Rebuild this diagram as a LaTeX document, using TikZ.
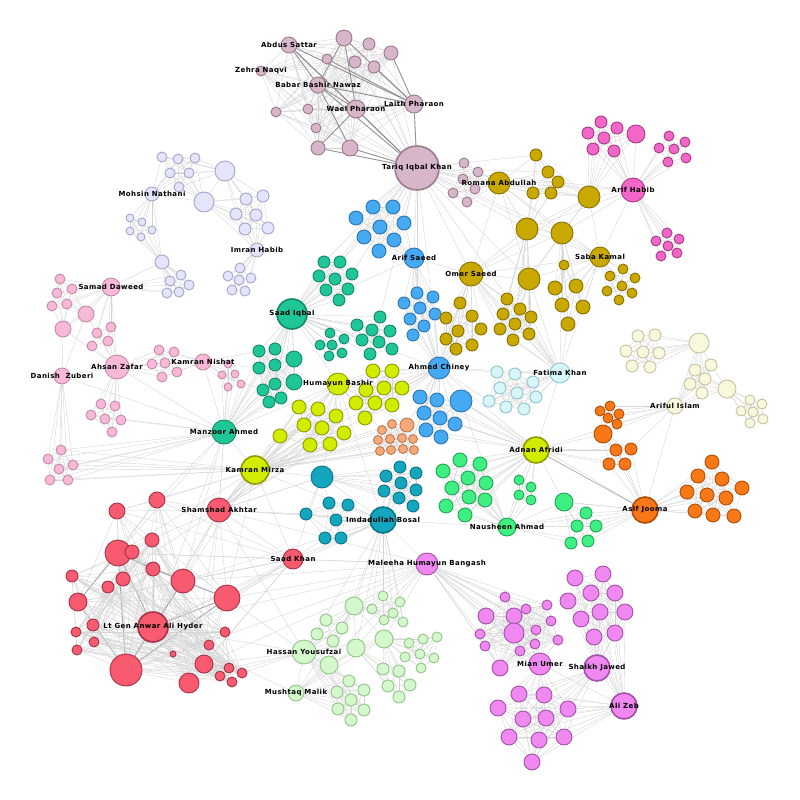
\documentclass[tikz,border=0pt]{standalone}
\usepackage{fontspec}
\newfontfamily\labfont[LetterSpace=6]{DejaVu Sans}
\pgfdeclarelayer{back}
\pgfdeclarelayer{edges}
\pgfsetlayers{back,edges,main}

\definecolor{mauveF}{HTML}{D8B6CA}\definecolor{mauveD}{HTML}{9C7A8E}
\definecolor{lilacF}{HTML}{E4E4FA}\definecolor{lilacD}{HTML}{A6A6CC}
\definecolor{roseF}{HTML}{F8B8D8}\definecolor{roseD}{HTML}{C48CA6}
\definecolor{jadeF}{HTML}{1FC698}\definecolor{jadeD}{HTML}{12896A}
\definecolor{chartF}{HTML}{D2EC00}\definecolor{chartD}{HTML}{8E9C00}
\definecolor{peachF}{HTML}{F6A878}\definecolor{peachD}{HTML}{C07A52}
\definecolor{skyF}{HTML}{46AAF2}\definecolor{skyD}{HTML}{2A76B6}
\definecolor{petrolF}{HTML}{14A6BE}\definecolor{petrolD}{HTML}{0A7686}
\definecolor{mintF}{HTML}{3EF082}\definecolor{mintD}{HTML}{22A656}
\definecolor{ochreF}{HTML}{C9A800}\definecolor{ochreD}{HTML}{8A7200}
\definecolor{orchidF}{HTML}{F266C8}\definecolor{orchidD}{HTML}{A83A88}
\definecolor{iceF}{HTML}{D6F6FA}\definecolor{iceD}{HTML}{92C4CC}
\definecolor{creamF}{HTML}{FAF8DC}\definecolor{creamD}{HTML}{C4C2A0}
\definecolor{amberF}{HTML}{F87818}\definecolor{amberD}{HTML}{B04E08}
\definecolor{coralF}{HTML}{F85A70}\definecolor{coralD}{HTML}{A63448}
\definecolor{sageF}{HTML}{D4F8CC}\definecolor{sageD}{HTML}{94C48C}
\definecolor{plumF}{HTML}{F088F2}\definecolor{plumD}{HTML}{A450A8}

\tikzset{
  nd/.style={circle, inner sep=0pt, line width=0.9pt},
  hub/.style={line width=1.6pt},
  mauve/.style={nd, fill=mauveF, draw=mauveD},
  lilac/.style={nd, fill=lilacF, draw=lilacD},
  rose/.style={nd, fill=roseF, draw=roseD},
  jade/.style={nd, fill=jadeF, draw=jadeD},
  chart/.style={nd, fill=chartF, draw=chartD},
  peach/.style={nd, fill=peachF, draw=peachD},
  sky/.style={nd, fill=skyF, draw=skyD},
  petrol/.style={nd, fill=petrolF, draw=petrolD},
  mint/.style={nd, fill=mintF, draw=mintD},
  ochre/.style={nd, fill=ochreF, draw=ochreD},
  orchid/.style={nd, fill=orchidF, draw=orchidD},
  ice/.style={nd, fill=iceF, draw=iceD},
  cream/.style={nd, fill=creamF, draw=creamD},
  amber/.style={nd, fill=amberF, draw=amberD},
  coral/.style={nd, fill=coralF, draw=coralD},
  sage/.style={nd, fill=sageF, draw=sageD},
  plum/.style={nd, fill=plumF, draw=plumD},
  lnk/.style={draw=black!17, line width=0.35pt},
  lnkd/.style={draw=black!42, line width=0.9pt},
  lab/.style={font=\labfont\bfseries\fontsize{7}{8}\selectfont, inner sep=0pt}
}

% group of small nodes: style, name prefix, list x/y/radius
\newcommand\grp[3]{\foreach \x/\y/\r [count=\i] in {#3}{\node[#1,minimum size=\r*2pt] (#2\i) at (\x,\y) {};}}
% all links inside a group
\newcommand\cliq[3][]{\foreach \i in {1,...,#3}{\foreach \j in {1,...,#3}{\ifnum\i<\j\relax\draw[lnk,#1] (#2\i)--(#2\j);\fi}}}
% all links inside a list of names
\newcommand\cliql[2][]{\foreach \a [count=\i] in {#2}{\foreach \b [count=\j] in {#2}{\ifnum\i<\j\relax\draw[lnk,#1] (\a)--(\b);\fi}}}
% hub to every node of a group
\newcommand\fan[4][]{\foreach \i in {1,...,#4}{\draw[lnk,#1] (#2)--(#3\i);}}

\begin{document}
\begin{tikzpicture}[x=1pt,y=-1pt]
\begin{pgfonlayer}{back}
\fill[white] (0,0) rectangle (800,800);
\end{pgfonlayer}
\useasboundingbox (0,0) rectangle (800,800);

% mauve
\node[mauve,hub,minimum size=44pt] (tariq) at (417,168) {};
\node[mauve,minimum size=16pt] (abdus) at (289,45) {};
\node[mauve,minimum size=10pt] (zehra) at (261,71) {};
\node[mauve,minimum size=16pt] (babar) at (318,85) {};
\node[mauve,minimum size=18pt] (wael) at (356,109) {};
\node[mauve,minimum size=18pt] (laith) at (414,104) {};
\grp{mauve}{ma}{344/38/8, 369/44/6, 391/53/7, 327/59/5, 355/62/6, 374/67/6, 276/112/5, 308/109/5, 316/128/5, 318/148/7, 350/148/8}
\grp{mauve}{mb}{464/163/5, 478/172/5, 463/179/5, 475/189/5, 453/193/5, 467/202/5}

% lilac
\node[lilac,minimum size=14pt] (mohsin) at (152,194) {};
\node[lilac,minimum size=14pt] (imran) at (257,250) {};
\grp{lilac}{la}{162/157/5, 178/159/5, 195/158/5, 170/173/5, 189/173/5, 179/187/5}
\grp{lilac}{lb}{225/171/10, 204/202/10}
\grp{lilac}{lc}{130/218/4, 142/222/4, 130/231/4, 152/230/4, 141/237/4}
\grp{lilac}{lr}{246/199/6, 263/196/6, 236/214/6, 256/215/6, 245/229/6, 268/228/6}
\grp{lilac}{le}{162/262/7, 170/281/5, 181/275/5, 189/285/5, 167/293/5, 179/292/5}
\grp{lilac}{lf}{240/268/5, 228/276/5, 239/280/5, 251/278/5, 232/290/5, 245/291/5}

% rose
\node[rose,minimum size=18pt] (samad) at (111,287) {};
\node[rose,minimum size=24pt] (ahsan) at (117,367) {};
\node[rose,minimum size=16pt] (danish) at (62,376) {};
\node[rose,minimum size=16pt] (nishat) at (203,362) {};
\grp{rose}{pa}{60/279/5, 57/293/5, 72/289/5, 52/306/5, 67/304/5, 86/314/8, 63/329/8}
\grp{rose}{pb}{97/333/5, 111/327/5, 108/341/5, 92/346/5}
\grp{rose}{pc}{159/350/5, 174/352/5, 152/364/5, 165/363/5, 177/372/5, 162/377/5}
\grp{rose}{pd}{228/364/4, 222/375/4, 235/374/4, 228/387/4, 241/384/4}
\grp{rose}{pe}{101/404/5, 115/406/5, 91/415/5, 105/419/5, 121/420/5, 112/432/5}
\grp{rose}{pf}{61/450/5, 48/459/5, 59/469/5, 73/465/5, 50/480/5, 68/480/5}

% jade
\node[jade,hub,minimum size=30pt] (saadiq) at (292,314) {};
\node[jade,minimum size=24pt] (manzoor) at (224,432) {};
\grp{jade}{ta}{324/262/6, 340/262/6, 319/276/6, 335/279/6, 352/274/6, 326/290/6, 348/289/6, 339/300/6}
\grp{jade}{tb}{380/317/6, 357/325/6, 372/330/6, 390/331/6, 362/340/6, 379/342/6, 370/354/6, 392/349/6}
\grp{jade}{tc}{330/333/5, 320/345/5, 332/345/5, 344/339/5, 329/356/5, 342/353/5}
\grp{jade}{td}{275/349/6, 294/359/8, 275/365/6, 294/382/8, 275/384/6, 269/402/6, 281/398/6, 259/351/6, 259/368/6, 263/390/6}

% chart
\node[chart,minimum size=22pt] (humayun) at (338,384) {};
\node[chart,hub,minimum size=28pt] (mirza) at (255,470) {};
\node[chart,hub,minimum size=26pt] (adnan) at (536,450) {};
\grp{chart}{ya}{373/371/7, 392/371/7, 366/390/7, 384/388/7, 402/388/7, 356/403/7, 375/403/7, 392/405/7, 365/418/7}
\grp{chart}{yb}{299/407/7, 318/409/7, 336/416/7, 304/425/7, 322/428/7, 280/436/7, 344/433/7, 310/445/7, 330/444/7}

% peach
\grp{peach}{po}{407/425/7, 392/424/4.5, 382/430/4.5, 402/438/4.5, 390/439/4.5, 378/440/4.5, 413/439/4.5, 380/451/4.5, 391/450/4.5, 403/449/4.5, 414/450/4.5}

% sky
\node[sky,minimum size=20pt] (arifsaeed) at (414,258) {};
\node[sky,minimum size=22pt] (chiney) at (439,368) {};
\grp{sky}{ba}{373/207/7, 393/207/7, 356/218/7, 380/227/7, 404/223/7, 364/237/7, 394/240/7, 379/251/7}
\grp{sky}{bb}{417/293/6, 433/297/6, 404/303/6, 420/308/6, 435/314/6, 410/319/6, 424/326/6, 413/335/6}
\grp{sky}{bc}{420/397/7, 437/400/7, 461/401/11, 424/413/7, 440/418/7, 455/424/7, 426/430/7, 441/437/7}

% petrol
\node[petrol,hub,minimum size=26pt] (imdad) at (383,520) {};
\grp{petrol}{da}{322/477/11, 400/467/6, 416/473/6, 386/476/6, 401/483/6, 416/490/6, 384/491/6, 399/498/6, 413/506/6}
\grp{petrol}{db}{329/503/6, 348/505/6, 306/514/6, 336/520/6, 325/538/6, 341/538/6}

% mint
\node[mint,minimum size=18pt] (nausheen) at (507,527) {};
\grp{mint}{ga}{460/460/7, 480/464/7, 443/471/7, 468/478/7, 486/483/7, 452/488/7, 469/497/7, 485/500/7, 446/506/7, 465/515/7}
\grp{mint}{gb}{519/480/5, 531/487/5, 519/495/5, 531/500/5}
\grp{mint}{gc}{564/502/9, 586/513/6, 577/526/6, 596/526/6, 571/543/6, 588/541/6}

% ochre
\node[ochre,minimum size=22pt] (romana) at (499,183) {};
\node[ochre,minimum size=24pt] (omer) at (471,274) {};
\node[ochre,minimum size=20pt] (saba) at (600,257) {};
\grp{ochre}{oa}{536/155/6, 548/172/6, 558/182/6, 551/193/6, 533/193/6}
\grp{ochre}{ob}{589/197/11, 527/229/11, 562/233/11, 529/279/11}
\grp{ochre}{oc}{564/265/5, 555/288/7, 576/286/7, 562/305/7, 583/307/7, 568/324/7}
\grp{ochre}{od}{610/276/5, 623/269/5, 635/278/5, 622/286/5, 607/291/5, 632/293/5, 619/300/5}
\grp{ochre}{oe}{460/303/6, 446/318/6, 472/316/6, 458/331/6, 481/329/6, 446/339/6, 456/349/6, 472/345/6}
\grp{ochre}{of}{507/299/6, 520/309/6, 503/314/6, 515/324/6, 531/317/6, 500/329/6, 513/340/6, 529/334/6}

% orchid
\node[orchid,minimum size=24pt] (habib) at (633,190) {};
\grp{orchid}{ha}{601/122/6, 617/128/6, 588/133/6, 604/138/6, 593/149/6, 614/151/6, 636/134/9}
\grp{orchid}{hb}{669/136/5, 685/142/5, 659/148/5, 674/149/5, 686/158/5, 668/162/5}
\grp{orchid}{hc}{667/233/5, 656/241/5, 679/239/5, 668/246/5, 661/256/5, 677/253/5}

% ice
\node[ice,minimum size=20pt] (fatima) at (560,373) {};
\grp{ice}{ca}{497/372/6, 515/374/6, 533/382/6, 500/388/6, 517/393/6, 536/397/6, 489/401/6, 506/407/6, 524/409/6}

% cream
\node[cream,minimum size=16pt] (ariful) at (675,406) {};
\grp{cream}{ea}{638/336/6, 655/335/6, 626/351/6, 643/352/6, 659/353/6, 632/366/6, 650/367/6}
\grp{cream}{eb}{695/370/6, 711/365/6, 690/384/6, 705/379/6, 702/393/6}
\grp{cream}{ec}{699/343/10, 727/389/9}
\grp{cream}{ed}{750/400/5, 762/404/5, 741/411/5, 753/412/5, 763/419/5, 750/423/5}

% amber
\node[amber,hub,minimum size=26pt] (jooma) at (645,510) {};
\grp{amber}{ra}{610/406/5, 600/411/5, 619/414/5, 608/418/5, 617/424/5}
\grp{amber}{rb}{603/434/9, 616/450/6, 631/449/6, 609/464/6, 625/464/6}
\grp{amber}{rc}{712/462/7, 698/476/7, 722/479/7, 742/488/7, 687/492/7, 707/495/7, 726/498/7, 695/511/7, 713/515/7, 734/516/7}

% coral
\node[coral,minimum size=24pt] (shamshad) at (219,510) {};
\node[coral,hub,minimum size=30pt] (anwar) at (153,627) {};
\node[coral,minimum size=20pt] (saadkhan) at (293,559) {};
\grp{coral}{xb}{157/500/8, 117/511/8, 118/553/13, 183/581/12, 227/598/13, 126/670/16, 78/602/9, 189/683/10, 204/664/9}
\grp{coral}{xc}{132/552/7, 152/540/7, 72/576/6, 153/569/7, 123/579/7, 108/587/6, 93/625/6, 76/632/5, 94/642/5, 77/650/5, 225/632/5, 209/645/5, 173/654/3, 229/668/5, 242/673/5, 220/676/5, 232/682/5}

% sage
\node[sage,minimum size=24pt] (hassan) at (304,652) {};
\node[sage,minimum size=16pt] (mushtaq) at (296,693) {};
\grp{sage}{ka}{383/596/5, 400/602/5, 372/609/5, 393/613/5, 384/620/5, 403/622/5}
\grp{sage}{kb}{354/606/9, 356/648/9, 384/639/9, 329/665/9}
\grp{sage}{kc}{326/620/6, 342/628/6, 317/634/6, 333/641/6}
\grp{sage}{kd}{409/643/5, 423/639/5, 437/637/5, 405/657/5, 420/654/5, 434/658/5, 421/668/5}
\grp{sage}{ke}{383/669/6, 399/671/6, 388/686/6, 410/685/6, 399/697/6}
\grp{sage}{kf}{349/681/6, 364/690/6, 337/692/6, 351/700/6, 338/709/6, 364/710/6, 351/720/6}

% plum
\node[plum,minimum size=22pt] (maleeha) at (427,564) {};
\node[plum,minimum size=22pt] (mianumer) at (540,664) {};
\node[plum,hub,minimum size=26pt] (shaikh) at (597,668) {};
\node[plum,hub,minimum size=26pt] (alizeb) at (624,706) {};
\grp{plum}{va}{505/597/5, 526/609/5, 486/616/8, 514/616/8, 514/633/10, 480/634/5, 485/646/5, 520/651/5, 500/668/8, 547/605/5, 551/621/5, 536/630/5, 535/644/5, 558/640/5}
\grp{plum}{vb}{519/694/8, 498/708/8, 523/719/8, 509/737/8, 532/762/8, 544/695/8, 568/709/8, 546/718/8, 539/740/8, 564/737/8}
\grp{plum}{vc}{575/578/8, 603/574/8, 591/593/8, 615/593/8, 568/601/8, 600/612/8, 625/612/8, 581/619/8, 594/637/8, 615/633/8}

\begin{pgfonlayer}{edges}
% mauve
\cliql{abdus,zehra,babar,wael,laith,tariq,ma1,ma2,ma3,ma4,ma5,ma6,ma7,ma8,ma9,ma10,ma11}
\foreach \a/\b in {abdus/babar,abdus/wael,abdus/laith,abdus/tariq,babar/wael,babar/laith,babar/tariq,wael/tariq,laith/tariq,wael/laith,ma1/babar,ma1/wael,ma3/laith,ma10/wael,ma11/tariq,ma11/babar,ma1/laith,ma6/laith,ma10/tariq,ma4/laith}
  \draw[lnkd] (\a)--(\b);
\fan{tariq}{mb}{6} \cliq{mb}{6} \fan{romana}{mb}{6}
\fan{tariq}{ba}{8}
\foreach \b in {saadiq,arifsaeed,chiney,omer,romana,saba,habib,fatima,ob1,ob2,ob3,ob4,oa1,oa2,oa5,ta1,ta2,ta5,tb1,bb1}
  \draw[lnk] (tariq)--(\b);
% lilac
\cliq{la}{6} \cliq{lc}{5} \cliq{lr}{6} \cliq{le}{6} \cliq{lf}{6}
\fan{mohsin}{la}{6} \fan{mohsin}{lc}{5} \fan{lb1}{la}{6} \fan{lb2}{la}{6}
\fan{lb1}{lr}{6} \fan{lb2}{lr}{6} \fan{imran}{lr}{6} \fan{imran}{lf}{6}
\fan{le1}{lc}{5} \fan{le1}{le}{6} \fan{samad}{le}{6}
\foreach \a/\b in {mohsin/lb2,lb1/lb2,mohsin/le1,imran/lb2,imran/lf1}
  \draw[lnk] (\a)--(\b);
% rose
\cliq{pa}{7} \cliq{pb}{4} \cliq{pc}{6} \cliq{pd}{5} \cliq{pe}{6} \cliq{pf}{6}
\fan{samad}{pa}{7} \fan{samad}{pb}{4} \fan{ahsan}{pb}{4} \fan{ahsan}{pc}{6}
\fan{ahsan}{pe}{6} \fan{danish}{pf}{6} \fan{nishat}{pc}{6} \fan{nishat}{pd}{5}
\fan{mirza}{pf}{6} \fan{manzoor}{pd}{5} \fan{manzoor}{pf}{6}
\foreach \a/\b in {samad/ahsan,ahsan/danish,danish/pa7,danish/pa6,ahsan/pa6,ahsan/pa7,ahsan/nishat,danish/manzoor,ahsan/manzoor,pe5/manzoor,pe3/manzoor,nishat/td8,nishat/td9,pd2/td10}
  \draw[lnk] (\a)--(\b);
% jade
\cliq{ta}{8} \cliq{tb}{8} \cliq{tc}{6} \cliq{td}{10}
\fan{saadiq}{ta}{8} \fan{saadiq}{tb}{8} \fan{saadiq}{tc}{6} \fan{saadiq}{td}{10} \fan{manzoor}{td}{10}
\foreach \a/\b in {manzoor/saadiq,manzoor/mirza,manzoor/humayun,manzoor/nishat,manzoor/shamshad,manzoor/anwar,manzoor/xb3,manzoor/xb1,manzoor/xb4,saadiq/humayun,saadiq/chiney,saadiq/arifsaeed,saadiq/ba6}
  \draw[lnk] (\a)--(\b);
% chart and peach
\cliq{ya}{9} \cliq{yb}{9}
\fan{humayun}{ya}{9} \fan{humayun}{yb}{9} \fan{mirza}{yb}{9} \fan{chiney}{ya}{9} \fan{shamshad}{yb}{9}
\cliq{po}{11} \fan{mirza}{po}{11}
\foreach \a/\b in {mirza/humayun,mirza/ya6,mirza/ya9,humayun/po1,humayun/po3,chiney/po1}
  \draw[lnk] (\a)--(\b);
% sky
\cliq{ba}{8} \cliq{bb}{8} \cliq{bc}{8}
\fan{arifsaeed}{ba}{8} \fan{arifsaeed}{bb}{8} \fan{chiney}{bb}{8} \fan{chiney}{bc}{8}
\fan{chiney}{oe}{8} \fan{adnan}{bc}{8}
\foreach \a/\b in {chiney/arifsaeed,chiney/humayun,chiney/omer,chiney/adnan,chiney/fatima,chiney/imdad,chiney/mirza,bc3/adnan,bc3/jooma,bc3/nausheen,arifsaeed/omer}
  \draw[lnk] (\a)--(\b);
% petrol
\cliq{da}{9} \cliq{db}{6}
\fan{imdad}{da}{9} \fan{imdad}{db}{6} \fan{imdad}{kb}{4} \fan{imdad}{ka}{6}
\foreach \a/\b in {imdad/maleeha,imdad/hassan,imdad/nausheen,imdad/saadkhan,imdad/shamshad,imdad/mirza,imdad/humayun,da1/mirza,da1/humayun,da1/shamshad,da1/saadkhan,imdad/chiney,da1/db1,da1/db3}
  \draw[lnk] (\a)--(\b);
% mint
\cliq{ga}{10} \cliq{gb}{4} \cliq{gc}{6}
\fan{nausheen}{ga}{10} \fan{nausheen}{gb}{4} \fan{nausheen}{gc}{6} \fan{jooma}{gc}{6} \fan{adnan}{gb}{4} \fan{adnan}{ga}{10}
\foreach \a/\b in {nausheen/jooma,nausheen/adnan,gc1/jooma,gc1/adnan}
  \draw[lnk] (\a)--(\b);
% ochre
\cliq{oa}{5} \cliq{oc}{6} \cliq{od}{7} \cliq{oe}{8} \cliq{of}{8}
\cliql{romana,omer,saba,ob1,ob2,ob3,ob4}
\fan{romana}{oa}{5} \fan{omer}{oe}{8} \fan{omer}{of}{8} \fan{saba}{od}{7} \fan{saba}{oc}{6}
\fan{ob3}{oc}{6} \fan{ob4}{of}{8} \fan{ob1}{oa}{5} \fan{ob2}{oa}{5} \fan{ob2}{of}{8}
% orchid
\cliq{ha}{7} \cliq{hb}{6} \cliq{hc}{6}
\fan{ob1}{ha}{7} \fan{habib}{ha}{7} \fan{habib}{hb}{6} \fan{habib}{hc}{6}
\foreach \a/\b in {habib/saba,habib/ob1,habib/ob3,habib/romana,habib/ob2}
  \draw[lnk] (\a)--(\b);
% ice
\cliq{ca}{9} \fan{fatima}{ca}{9} \fan{fatima}{of}{8}
\foreach \a/\b in {fatima/saba,fatima/ob4,fatima/ob3,fatima/oc6,fatima/adnan,chiney/ca1,chiney/ca7}
  \draw[lnk] (\a)--(\b);
% cream
\cliq{ea}{7} \cliq{eb}{5} \cliq{ed}{6}
\fan{ec1}{ea}{7} \fan{ariful}{eb}{5} \fan{ec2}{eb}{5} \fan{ec2}{ed}{6} \fan{ec1}{eb}{5} \fan{ariful}{ra}{5}
\foreach \a/\b in {ariful/ec1,ariful/ec2,ariful/jooma,ariful/adnan,ariful/rb1,ariful/rb3}
  \draw[lnk] (\a)--(\b);
% amber
\cliq{ra}{5} \cliq{rb}{5} \cliq{rc}{10}
\fan{jooma}{rb}{5} \fan{jooma}{rc}{10} \fan{rb1}{ra}{5} \fan{adnan}{rb}{5}
\draw[lnk,draw=black!35,line width=0.7pt] (jooma)--(adnan);
% coral
\cliql{shamshad,anwar,saadkhan,xb1,xb2,xb3,xb4,xb5,xb6,xb7,xb8,xb9}
\foreach \a/\b in {anwar/xb3,anwar/xb4,anwar/xb5,anwar/xb6,xb3/xb6,xb4/xb5,xb5/xb6,xb3/xb4,xb6/xb4,xb3/xc4,xc4/xb4,xb6/xb7,xb3/xb7}
  \draw[lnkd,draw=black!35,line width=0.8pt] (\a)--(\b);
\cliq{xc}{17} \fan{anwar}{xc}{17} \fan{xb6}{xc}{17}
\foreach \b in {imdad,maleeha,humayun,mirza,manzoor,da1,db3,hassan,yb6,yb8}
  \draw[lnk] (shamshad)--(\b);
\foreach \a/\b in {xb4/maleeha,xb4/imdad,xb4/saadkhan,xb4/mirza,xb5/maleeha,xb5/imdad,xb5/saadkhan,xb5/mirza,xb5/hassan,anwar/maleeha,anwar/imdad,anwar/hassan,anwar/mushtaq,xb9/hassan,xb9/maleeha,xb8/hassan,xc15/hassan,xc14/hassan,xc13/maleeha,xb1/mirza,xb2/mirza,xb3/mirza,saadkhan/mirza,saadkhan/db5}
  \draw[lnk] (\a)--(\b);
% sage
\cliq{ka}{6} \cliq{kc}{4} \cliq{kd}{7} \cliq{ke}{5} \cliq{kf}{7}
\cliql{hassan,mushtaq,kb1,kb2,kb3,kb4}
\fan{hassan}{kc}{4} \fan{hassan}{kf}{7} \fan{mushtaq}{kf}{7} \fan{kb1}{ka}{6} \fan{kb3}{kd}{7}
\fan{kb3}{ke}{5} \fan{kb4}{kf}{7} \fan{kb2}{ke}{5} \fan{kb1}{kc}{4}
\foreach \a/\b in {maleeha/kb1,maleeha/hassan,maleeha/kb3,maleeha/kb2,maleeha/mushtaq}
  \draw[lnk] (\a)--(\b);
% plum
\cliq{va}{14} \cliq{vb}{10} \cliq{vc}{10}
\fan{maleeha}{va}{14} \fan{mianumer}{va}{14} \fan{mianumer}{vb}{10} \fan{shaikh}{vc}{10}
\fan{alizeb}{vc}{10} \fan{shaikh}{vb}{10} \fan{alizeb}{vb}{10}
\foreach \a/\b in {shaikh/alizeb,mianumer/shaikh,mianumer/alizeb,maleeha/mianumer,maleeha/saadkhan,maleeha/xb3}
  \draw[lnk] (\a)--(\b);
\end{pgfonlayer}

% labels
\foreach \n/\t in {abdus/Abdus Sattar, zehra/Zehra Naqvi, babar/Babar Bashir Nawaz,
  wael/Wael Pharaon, laith/Laith Pharaon, tariq/Tariq Iqbal Khan, romana/Romana Abdullah,
  habib/Arif Habib, mohsin/Mohsin Nathani, imran/Imran Habib, arifsaeed/Arif Saeed,
  omer/Omer Saeed, saba/Saba Kamal, samad/Samad Daweed, saadiq/Saad Iqbal,
  nishat/Kamran Nishat, ahsan/Ahsan Zafar, chiney/Ahmed Chiney, fatima/Fatima Khan,
  humayun/Humayun Bashir, ariful/Ariful Islam, manzoor/Manzoor Ahmed, adnan/Adnan Afridi,
  mirza/Kamran Mirza, jooma/Asif Jooma, shamshad/Shamshad Akhtar, imdad/Imdadullah Bosal,
  nausheen/Nausheen Ahmad, saadkhan/Saad Khan, maleeha/Maleeha Humayun Bangash,
  anwar/Lt Gen Anwar Ali Hyder, hassan/Hassan Yousufzai, mianumer/Mian Umer,
  shaikh/Shaikh Jawed, mushtaq/Mushtaq Malik, alizeb/Ali Zeb}
  \node[lab] at (\n) {\t};
\node[lab] at (danish) {Danish\ \ Zuberi};
\end{tikzpicture}
\end{document}
